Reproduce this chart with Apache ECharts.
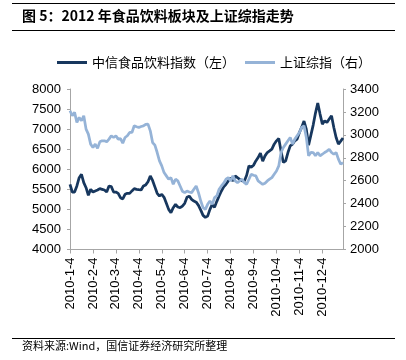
<!DOCTYPE html>
<html>
<head>
<meta charset="utf-8">
<script src="https://cdn.jsdelivr.net/npm/echarts@6/dist/echarts.min.js"></script>
<style>
html,body{margin:0;padding:0;background:#fff;}
#chart{width:406px;height:360px;}
</style>
</head>
<body>
<div id="chart"></div>
<script>
// Month tick labels (one label every 10 sample points)
var tickLabels = ["2010-1-4","2010-2-4","2010-3-4","2010-4-4","2010-5-4","2010-6-4",
  "2010-7-4","2010-8-4","2010-9-4","2010-10-4","2010-11-4","2010-12-4"];

// 中信食品饮料指数（左）
var foodIndex = [
  5625,5433,5433,5583,5790,5875,5667,5540,5350,5500,
  5433,5460,5483,5517,5500,5483,5433,5583,5567,5433,
  5433,5400,5290,5260,5375,5400,5400,5460,5517,5500,
  5490,5483,5583,5610,5690,5833,5720,5560,5400,5333,
  5375,5300,5150,5000,4917,5042,5125,5060,5042,5083,
  5150,5300,5330,5250,5208,5180,5100,4980,4850,4800,
  4833,5000,5125,5050,5200,5333,5458,5560,5625,5708,
  5790,5708,5833,5790,5750,5708,5708,5850,6083,6050,
  6100,6208,6292,6400,6200,6333,6417,6458,6500,6625,
  6708,6767,6450,6170,6210,6417,6583,6625,6708,6750,
  6917,7050,7200,7000,6600,6850,7100,7400,7650,7375,
  7125,7208,7167,7250,7333,7042,6792,6625,6700,6780
];

// 上证综指（右）
var shComposite = [
  3210,3167,3196,3108,3152,3123,3167,3050,3006,2919,
  2890,2919,2882,2939,2948,2948,2939,2963,2992,2977,
  2992,2963,2968,2928,2977,2992,3021,3021,3079,3071,
  3065,3073,3078,3092,3094,3035,2933,2910,2846,2773,
  2729,2671,2642,2613,2627,2569,2613,2598,2554,2508,
  2496,2510,2502,2496,2525,2554,2496,2423,2365,2350,
  2394,2423,2394,2452,2467,2525,2554,2578,2613,2627,
  2598,2642,2598,2583,2598,2613,2583,2569,2613,2656,
  2648,2642,2598,2583,2569,2578,2598,2613,2627,2656,
  2685,2729,2846,2890,2919,2948,2977,2919,2963,2992,
  3021,3065,3079,2980,2817,2847,2846,2817,2846,2817,
  2831,2846,2858,2875,2846,2831,2846,2788,2744,2758
];

var seriesNames = ["中信食品饮料指数（左）","上证综指（右）"];

// category names: month label for first point of each month, sub-points otherwise
var categories = [];
for (var m = 0; m < tickLabels.length; m++) {
  for (var k = 0; k < 10; k++) {
    categories.push(k === 0 ? tickLabels[m] : tickLabels[m] + "#" + k);
  }
}

var latin = "Arial, 'Liberation Sans', sans-serif";
var cjk = "'Noto Sans CJK SC', 'Liberation Sans', sans-serif";
function plain(v) { return String(v); }

var chart = echarts.init(document.getElementById('chart'), null, {renderer: 'canvas'});
chart.setOption({
  animation: false,
  backgroundColor: '#fff',
  graphic: [
    {type: 'line', shape: {x1: 12, y1: 3.5, x2: 395, y2: 3.5}, style: {stroke: '#000', lineWidth: 1}},
    {type: 'line', shape: {x1: 12, y1: 30.5, x2: 395, y2: 30.5}, style: {stroke: '#000', lineWidth: 1}},
    {type: 'text', left: 22, top: 9,
      style: {text: '图 5：2012 年食品饮料板块及上证综指走势', fill: '#000',
        font: "bold 14px 'Noto Sans CJK SC', 'Liberation Sans', sans-serif"}},
    {type: 'line', shape: {x1: 12, y1: 338.5, x2: 395, y2: 338.5}, style: {stroke: '#000', lineWidth: 1}},
    {type: 'text', left: 22, top: 340,
      style: {text: '资料来源:Wind，国信证券经济研究所整理', fill: '#000',
        font: "11px 'Noto Sans CJK SC', sans-serif"}}
  ],
  legend: {
    left: 52, top: 51,
    itemWidth: 30, itemHeight: 3, itemGap: 10,
    icon: 'rect',
    textStyle: {fontSize: 13, color: '#000', fontFamily: cjk},
    data: seriesNames
  },
  grid: {left: 70, right: 63, top: 89, bottom: 110.5, containLabel: false},
  xAxis: {
    type: 'category',
    data: categories,
    boundaryGap: false,
    axisLine: {lineStyle: {color: '#a6a6a6', width: 1}},
    axisTick: {interval: 9, length: 4, lineStyle: {color: '#a6a6a6'}},
    axisLabel: {interval: 9, rotate: 90, margin: 8, fontSize: 13, color: '#000', fontFamily: latin},
    splitLine: {show: false}
  },
  yAxis: [
    {type: 'value', min: 4000, max: 8000, interval: 500, position: 'left',
      axisLine: {show: true, lineStyle: {color: '#a6a6a6'}},
      axisTick: {show: true, length: 3, lineStyle: {color: '#a6a6a6'}},
      axisLabel: {fontSize: 13, color: '#000', margin: 9, fontFamily: latin, formatter: plain},
      splitLine: {show: false}},
    {type: 'value', min: 2000, max: 3400, interval: 200, position: 'right',
      axisLine: {show: true, lineStyle: {color: '#a6a6a6'}},
      axisTick: {show: true, length: 3, lineStyle: {color: '#a6a6a6'}},
      axisLabel: {fontSize: 13, color: '#000', margin: 7, fontFamily: latin, formatter: plain},
      splitLine: {show: false}}
  ],
  series: [
    {name: seriesNames[0], type: 'line', yAxisIndex: 0, data: foodIndex,
      symbol: 'none', lineStyle: {color: '#17375E', width: 2.75}, itemStyle: {color: '#17375E'}},
    {name: seriesNames[1], type: 'line', yAxisIndex: 1, data: shComposite,
      symbol: 'none', lineStyle: {color: '#95B3D7', width: 2.75}, itemStyle: {color: '#95B3D7'}}
  ]
});
</script>
</body>
</html>
